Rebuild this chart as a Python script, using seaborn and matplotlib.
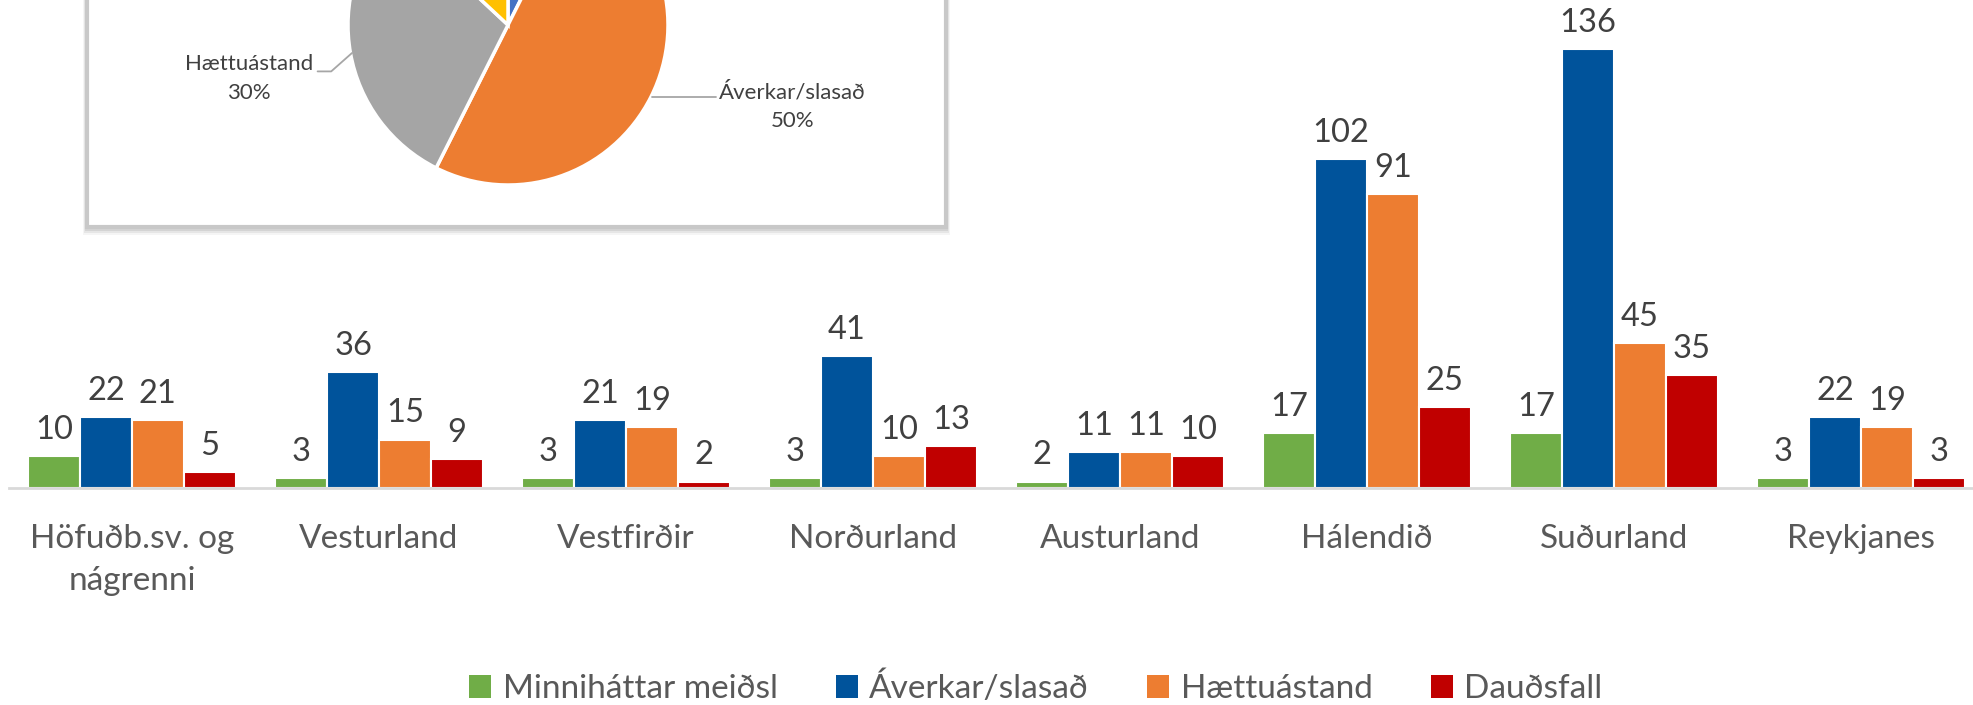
import pandas as pd
import numpy as np
import matplotlib.pyplot as plt
import seaborn as sns
from matplotlib.patches import Patch, Rectangle

# Data
regions = ['Höfuðb.sv. og\nnágrenni', 'Vesturland', 'Vestfirðir', 'Norðurland',
           'Austurland', 'Hálendið', 'Suðurland', 'Reykjanes']
types = ['Minniháttar meiðsl', 'Áverkar/slasað', 'Hættuástand', 'Dauðsfall']
minnihattar = [10, 3, 3, 3, 2, 17, 17, 3]
averkar = [22, 36, 21, 41, 11, 102, 136, 22]
haettuastand = [21, 15, 19, 10, 11, 91, 45, 19]
daudsfall = [5, 9, 2, 13, 10, 25, 35, 3]

# Pie (share of all cases)
pie_labels = ['Minniháttar meiðsl', 'Áverkar/slasað', 'Hættuástand', 'Dauðsfall']
pie_values = [sum(minnihattar), sum(averkar), sum(haettuastand), sum(daudsfall)]

bar_colors = ['#70AD47', '#00539B', '#ED7D31', '#C00000']
pie_colors = ['#4472C4', '#ED7D31', '#A5A5A5', '#FFC000']

sns.set_style('white')
plt.rcParams['font.family'] = ['Lato', 'DejaVu Sans']

# Long form table for seaborn
rows = []
for t, vals in zip(types, [minnihattar, averkar, haettuastand, daudsfall]):
    for r, v in zip(regions, vals):
        rows.append({'region': r, 'type': t, 'value': v})
data = pd.DataFrame(rows)

W, H = 1973, 705
fig = plt.figure(figsize=(W / 100, H / 100), dpi=100)

# Bar chart
ax = fig.add_axes([8.5 / W, (H - 488) / H, 1976 / W, 488 / H])
sns.barplot(data=data, x='region', y='value', hue='type', order=regions,
            hue_order=types, palette=bar_colors, width=0.84,
            edgecolor='white', linewidth=1.5, saturation=1, legend=False, ax=ax)
ax.set_ylim(0, 488 / 3.228)
ax.set_xlim(-0.5, 7.5)
for c in ax.containers:
    ax.bar_label(c, padding=8, fontsize=23.5, color='#404040')
for s in ['top', 'left', 'right']:
    ax.spines[s].set_visible(False)
ax.spines['bottom'].set_color('#D9D9D9')
ax.spines['bottom'].set_linewidth(2)
ax.set_yticks([])
ax.set_xlabel('')
ax.set_ylabel('')
ax.tick_params(axis='x', length=0, pad=26, labelsize=24, labelcolor='#595959')
for lbl in ax.get_xticklabels():
    lbl.set_linespacing(1.5)

# Legend
handles = [Patch(facecolor=c, edgecolor='none') for c in bar_colors]
fig.legend(handles, types, loc='center', bbox_to_anchor=(1036 / W, (H - 688) / H),
           ncol=4, frameon=False, fontsize=24, labelcolor='#595959',
           handlelength=0.65, handleheight=0.65, handletextpad=0.35,
           columnspacing=1.75)

# Inset box for the pie, with a soft shadow
bx0, bx1, by1 = 87, 946, 227
for i, a in enumerate([0.10, 0.08, 0.06, 0.04]):
    off = 2 + i * 2
    fig.patches.append(Rectangle((bx0 - off / 2, H - by1 - off),
                                 bx1 - bx0 + off, by1 + 40, transform=None,
                                 facecolor='black', alpha=a, edgecolor='none', zorder=1))
fig.patches.append(Rectangle((bx0, H - by1), bx1 - bx0, by1 + 40, transform=None,
                             facecolor='white', edgecolor='#C8C8C8', linewidth=3,
                             zorder=1.1))

# Pie
cx, cy, r = 508, 25, 160
pax = fig.add_axes([(cx - r) / W, (H - cy - r) / H, 2 * r / W, 2 * r / H], zorder=2)
pax.pie(pie_values, colors=pie_colors, startangle=90, counterclock=False,
        wedgeprops={'edgecolor': 'white', 'linewidth': 2.5})
pax.set_xlim(-1, 1)
pax.set_ylim(-1, 1)
pax.set_aspect('auto')
pax.patch.set_visible(False)
pax.axis('off')

total = sum(pie_values)
pct = [round(v / total * 100) for v in pie_values]
pax.plot([-1.19, -1.105, -0.975], [-0.29, -0.29, -0.175], color='#A6A6A6',
         lw=1.3, clip_on=False)
pax.text(-1.62, -0.335, f'{pie_labels[2]}\n{pct[2]}%', ha='center', va='center',
         fontsize=16, color='#404040', linespacing=1.55)
pax.plot([0.9, 1.3], [-0.45, -0.45], color='#A6A6A6', lw=1.3, clip_on=False)
pax.text(1.78, -0.51, f'{pie_labels[1]}\n{pct[1]}%', ha='center', va='center',
         fontsize=16, color='#404040', linespacing=1.55)

fig.savefig('out.png', dpi=100)
